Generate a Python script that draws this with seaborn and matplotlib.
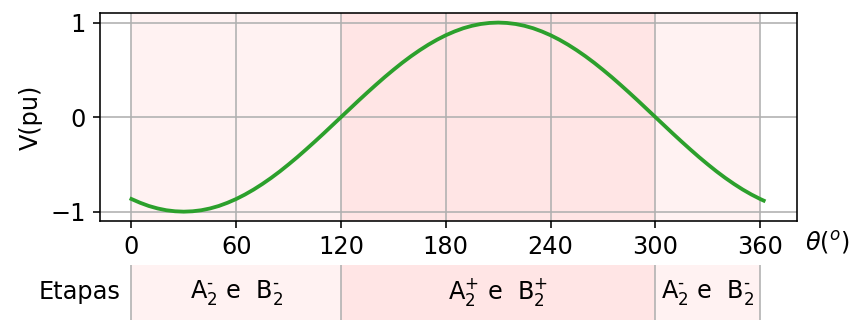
import matplotlib
matplotlib.use("Agg")
import matplotlib.pyplot as plt
import seaborn as sns
import pandas as pd

# Phase voltage over one electrical period (degrees, per-unit)
theta_deg = [0, 5, 10, 15, 20, 25, 30, 35, 40, 45, 50, 55, 60, 65, 70, 75, 80, 85,
             90, 95, 100, 105, 110, 115, 120, 125, 130, 135, 140, 145, 150, 155,
             160, 165, 170, 175, 180, 185, 190, 195, 200, 205, 210, 215, 220, 225,
             230, 235, 240, 245, 250, 255, 260, 265, 270, 275, 280, 285, 290, 295,
             300, 305, 310, 315, 320, 325, 330, 335, 340, 345, 350, 355, 360, 362]
v_pu = [-0.866, -0.906, -0.940, -0.966, -0.985, -0.996, -1.000, -0.996, -0.985,
        -0.966, -0.940, -0.906, -0.866, -0.819, -0.766, -0.707, -0.643, -0.574,
        -0.500, -0.423, -0.342, -0.259, -0.174, -0.087, 0.000, 0.087, 0.174,
        0.259, 0.342, 0.423, 0.500, 0.574, 0.643, 0.707, 0.766, 0.819, 0.866,
        0.906, 0.940, 0.966, 0.985, 0.996, 1.000, 0.996, 0.985, 0.966, 0.940,
        0.906, 0.866, 0.819, 0.766, 0.707, 0.643, 0.574, 0.500, 0.423, 0.342,
        0.259, 0.174, 0.087, 0.000, -0.087, -0.174, -0.259, -0.342, -0.423,
        -0.500, -0.574, -0.643, -0.707, -0.766, -0.819, -0.866, -0.883]

# Switching stages
stage_start = [0, 120, 300]
stage_end = [120, 300, 360]
stage_labels = [r"A$_2^{\text{-}}$ e  B$_2^{\text{-}}$",
                r"A$_2^{+}$ e  B$_2^{+}$",
                r"A$_2^{\text{-}}$ e  B$_2^{\text{-}}$"]
stage_alpha = [0.05, 0.10, 0.05]

x_ticks = [0, 60, 120, 180, 240, 300, 360]
y_ticks = [-1, 0, 1]

plt.rcParams["font.size"] = 12

df = pd.DataFrame({"theta": theta_deg, "v": v_pu})

fig = plt.figure(figsize=(853 / 144, 320 / 144), dpi=144)
ax = fig.add_axes([0.1172, 0.309, 0.817, 0.650])

for s, e, a in zip(stage_start, stage_end, stage_alpha):
    ax.axvspan(s, e, color="red", alpha=a, lw=0)

sns.lineplot(data=df, x="theta", y="v", color="tab:green", lw=1.9, ax=ax)
ax.set_xlim(-18, 381)
ax.set_ylim(-1.1, 1.1)
ax.set_xticks(x_ticks)
ax.set_yticks(y_ticks)
ax.grid(True)
ax.set_xlabel("")
ax.set_ylabel("V(pu)")
ax.text(1.012, -0.105, r"$\theta(^o)$", transform=ax.transAxes, ha="left", va="center")

# Stage table under the plot
tab = fig.add_axes([0.1172, 0.0, 0.817, 0.172])
tab.set_xlim(-18, 381)
tab.set_ylim(0, 1)
tab.axis("off")
for s, e, a, lab in zip(stage_start, stage_end, stage_alpha, stage_labels):
    tab.axvspan(s, e, color="red", alpha=a, lw=0)
    tab.text((s + e) / 2, 0.5, lab, ha="center", va="center")
for xv in [0, 120, 300, 360]:
    tab.axvline(xv, color="#b0b0b0", lw=0.8)
tab.text(-6, 0.5, "Etapas", ha="right", va="center")

fig.savefig("out.png", dpi=144)
